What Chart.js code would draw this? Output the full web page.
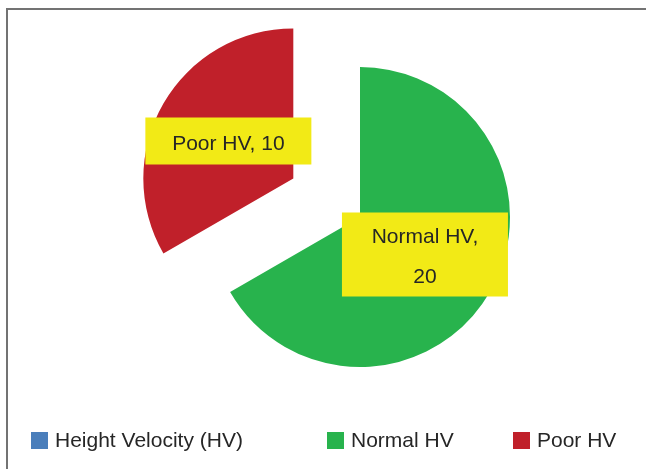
<!DOCTYPE html>
<html>
<head>
<meta charset="utf-8">
<script src="https://cdn.jsdelivr.net/npm/chart.js@4/dist/chart.umd.min.js"></script>
<style>
  html, body { margin: 0; padding: 0; background: #fff; }
  .wrap { position: relative; width: 646px; height: 469px; overflow: hidden; }
  .frame { position: absolute; left: 6px; top: 8px; right: -10px; bottom: -10px;
           border-top: 2px solid #737373; border-left: 2px solid #737373; }
  #chart { position: absolute; left: 0; top: 0; }
  .legend { position: absolute; left: 31px; top: 428px; display: grid;
            grid-template-columns: 296px 186px auto;
            font: 21px "Liberation Sans", Arial, sans-serif; color: #262626; }
  .legend .item { display: flex; align-items: center; height: 24px; white-space: nowrap; }
  .legend .box { width: 17px; height: 17px; margin-right: 7px; flex: none; }
</style>
</head>
<body>
<div class="wrap">
  <div class="frame"></div>
  <canvas id="chart" width="646" height="469"></canvas>
  <div class="legend" id="legend"></div>
</div>
<script>
// data
const seriesName = 'Height Velocity (HV)';
const categories = ['Normal HV', 'Poor HV'];
const hvCounts = [20, 10];

// styles
const FONT = '"Liberation Sans", Arial, sans-serif';
const TEXT_COLOR = '#262626';
const SERIES_COLOR = '#4A7EBB';
const SLICE_COLORS = ['#28B34D', '#C0202A'];
const LABEL_BG = '#F2EA16';
const EXPLODED = 'Poor HV';
const EXPLODE_DIST = 77;

// pull the exploded slice out along its middle angle
const explodePlugin = {
    id: 'explode',
    afterUpdate(chart) {
        const meta = chart.getDatasetMeta(0);
        meta.data.forEach((arc, i) => {
            if (categories[i] !== EXPLODED) return;
            const mid = (arc.startAngle + arc.endAngle) / 2;
            arc.x += Math.cos(mid) * EXPLODE_DIST;
            arc.y += Math.sin(mid) * EXPLODE_DIST;
        });
    }
};

function wrapText(ctx, text, maxWidth) {
    if (ctx.measureText(text).width <= maxWidth) return [text];
    const cut = text.lastIndexOf(' ');
    return [text.slice(0, cut), text.slice(cut + 1)];
}

// yellow data label boxes: "Category, value"
const labelPlugin = {
    id: 'sliceLabels',
    afterDatasetsDraw(chart) {
        const ctx = chart.ctx;
        const meta = chart.getDatasetMeta(0);
        ctx.save();
        ctx.font = '21px ' + FONT;
        ctx.textAlign = 'center';
        ctx.textBaseline = 'middle';
        meta.data.forEach((arc, i) => {
            const lines = wrapText(ctx, categories[i] + ', ' + hvCounts[i], 125);
            const p = arc.getCenterPoint();
            const w = 166, h = lines.length * 37 + 10;
            ctx.fillStyle = LABEL_BG;
            ctx.fillRect(p.x - w / 2, p.y - h / 2, w, h);
            ctx.fillStyle = TEXT_COLOR;
            lines.forEach((ln, j) => {
                ctx.fillText(ln, p.x, p.y + (j - (lines.length - 1) / 2) * 40 + 3);
            });
        });
        ctx.restore();
    }
};

// html legend: series name first, then the categories
const legendPlugin = {
    id: 'htmlLegend',
    afterUpdate(chart) {
        const el = document.getElementById('legend');
        el.innerHTML = '';
        const entries = [{ text: seriesName, color: SERIES_COLOR }]
            .concat(categories.map((c, i) => ({ text: c, color: SLICE_COLORS[i] })));
        entries.forEach(e => {
            const item = document.createElement('div');
            item.className = 'item';
            const box = document.createElement('span');
            box.className = 'box';
            box.style.background = e.color;
            const txt = document.createElement('span');
            txt.textContent = e.text;
            item.appendChild(box);
            item.appendChild(txt);
            el.appendChild(item);
        });
    }
};

new Chart(document.getElementById('chart'), {
    type: 'pie',
    data: {
        labels: categories,
        datasets: [{
            label: seriesName,
            data: hvCounts,
            backgroundColor: SLICE_COLORS,
            borderWidth: 0
        }]
    },
    options: {
        responsive: false,
        animation: false,
        events: [],
        radius: 150,
        layout: { padding: { left: 84, right: 10, top: 10, bottom: 45 } },
        plugins: {
            legend: { display: false },
            tooltip: { enabled: false }
        }
    },
    plugins: [explodePlugin, labelPlugin, legendPlugin]
});
</script>
</body>
</html>
